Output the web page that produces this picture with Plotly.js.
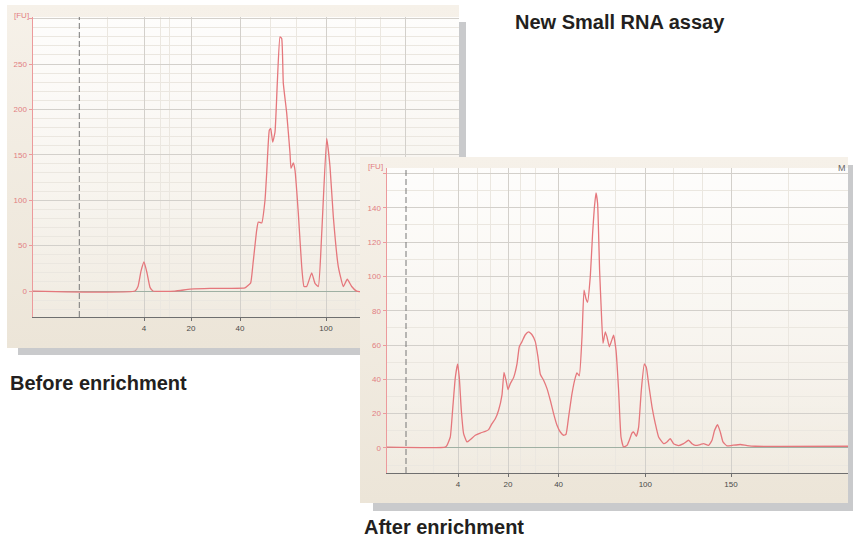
<!DOCTYPE html>
<html><head><meta charset="utf-8">
<script src="https://cdn.plot.ly/plotly-3.0.1.min.js"></script>
<style>
html,body{margin:0;padding:0;background:#fff;width:853px;height:544px;overflow:hidden;}
#base{position:absolute;left:0;top:0;width:853px;height:544px;}
.panel{position:absolute;}
#p1{left:7px;top:5px;width:452px;height:343px;
 background:linear-gradient(rgba(255,255,255,0.85),rgba(255,255,255,0.2)) 26px 12px/426px 300px no-repeat,linear-gradient(#f6f1e9,#ece5d8);}
#p2{left:360px;top:157px;width:488px;height:346px;
 background:linear-gradient(rgba(255,255,255,0.85),rgba(255,255,255,0.2)) 27px 11px/461px 305px no-repeat,linear-gradient(#f6f1e9,#ece5d8);}
</style></head><body>
<div id="base"></div><div id="p1" class="panel"></div><div id="p2" class="panel"></div>
<script>
// ---- Data: "Before enrichment" electropherogram (migration position, fluorescence units)
const beforeTime = [0,102,105,108,111,114,117,120,142,157,177,197,212,215,217.7,220,223.7,225.3,228.7,232,233.7,236.3,237.7,239.7,242,244.3,247,248.7,250.3,253.7,257,258,260.3,262,265.3,268.7,271,273.7,278.7,282,285.3,288.7,293.7,297,300.3,305.3,310.3,314.3,318.7,323.7,426];
const beforeFU   = [0,0,5,22,32,20,4,0,0,2,3,3,3.5,6,9,30,67,76,75,100,130,177,179,164,175,229,280,278,229,196,152,135,141,133,86,27,5,5,20,8.5,5,63,168,137,82,27,5,13,5,0,0];

// ---- Data: "After enrichment" electropherogram
const afterTime = [0,58.3,60,63.3,65.6,68.3,70.6,72.3,74.3,76.6,80,83.3,88.3,93.3,98.3,101.6,105,108.3,111.6,115,117,119,121,123.3,126.6,130,132.3,135,138.3,141.6,145,148.3,151,153.3,156.6,160,163.3,166.6,170,173.3,176.6,179,181.6,185,188.3,190,192.3,195,197,199,200.6,203.3,205.6,207.3,209,210.6,212.6,214.3,216,218.3,220,222.3,224.3,226.6,229,231.6,234,236.6,240,242.3,245,246.6,249.3,251.6,254.3,257.3,259.3,261.6,265,268.3,271.6,276.6,280,283.3,286.6,291.6,296.6,301.6,305,308.3,313.3,316.6,321.6,325,327.6,330.6,333.3,336,340,345,353.3,360,368.3,461];
const afterFU   = [0.5,0.5,1.5,6.4,22,41,49,41,22,8.4,3.5,4.9,7.4,8.7,9.7,10.7,14.2,17,22,31,44,39.5,34,37.5,41,49,59,62,66,67.7,66,62,53,43,39.5,34.6,27.8,20,13.2,9.3,7.4,8,18,31.7,41,43.7,42,64.7,92,87,85,100,125,139.6,148.7,142.5,103.6,80,61,67.7,64.7,59,62,65.7,57,33.6,6.4,0.6,1.5,4.5,8.7,9.3,6.8,12,33.6,49,47,37.5,24,14.2,6.4,2.5,3.5,5.4,2.5,1.4,2.5,4.5,2.5,1.5,2,2.5,1.5,4.5,10.3,13.6,9.3,3.5,1.2,1.5,2,1.4,1,1];

// ---- Axis labels (ladder sizes, nt) and their positions on the migration axis
const beforeTickPos  = [111,158,207,293,372];
const afterTickPos   = [71,121,171.6,258.3,344];
const sizeLabels     = ['4','20','40','100','150'];
const beforeMinorPos = [74.3,127,136.3,237.7,263.7,322,347.7];
const afterMinorPos  = [46.3,90,103.3,133.3,148.3,228.3,286.3,315,401.3];
const beforeYTicks   = [0,50,100,150,200,250,300];
const beforeYText    = ['0','50','100','150','200','250',''];
const afterYTicks    = [0,20,40,60,80,100,120,140,160];
const afterYText     = ['0','20','40','60','80','100','120','140',''];
const beforeMarker = 46.3, afterMarker = 19;

const TRACE = '#e5777c', PINK = '#e27e82', GRID = '#d3d0cb', MINOR = '#ebe7e0';
const tickFont = {family:'Liberation Sans, Arial, sans-serif', size:8};

function panel(div, xs, ys, xr, yr, tickPos, minorPos, yTicks, yText, marker, margin, extraAnn){
  const layout = {
    width: margin.w, height: margin.h,
    margin: {l: margin.l, r: 0, t: margin.t, b: margin.b},
    paper_bgcolor: 'rgba(0,0,0,0)', plot_bgcolor: 'rgba(0,0,0,0)',
    showlegend: false,
    xaxis: {range: xr, tickmode: 'array', tickvals: tickPos, ticktext: sizeLabels,
      showgrid: true, gridcolor: GRID, gridwidth: 1, zeroline: false,
      showline: true, linecolor: '#6f6f6f', linewidth: 1,
      ticks: 'outside', ticklen: 3, tickcolor: '#6f6f6f',
      tickfont: Object.assign({color: '#4a4a4a'}, tickFont),
      minor: {tickvals: minorPos, showgrid: true, gridcolor: MINOR, ticks: ''}},
    yaxis: {range: yr, tickmode: 'array', tickvals: yTicks, ticktext: yText,
      showgrid: true, gridcolor: GRID, gridwidth: 1,
      zeroline: true, zerolinecolor: '#9fb0a3', zerolinewidth: 1,
      showline: true, linecolor: '#ec9a9c', linewidth: 1.5,
      ticks: 'outside', ticklen: 3, tickcolor: '#ec9a9c',
      tickfont: Object.assign({color: PINK}, tickFont),
      minor: {dtick: 10, showgrid: true, gridcolor: MINOR, ticks: ''}},
    shapes: [{type: 'line', xref: 'x', yref: 'paper', x0: marker, x1: marker, y0: 0, y1: 1,
      line: {color: '#777', width: 1, dash: '6px,3px'}}],
    annotations: [{xref: 'paper', yref: 'paper', x: 0, y: 1, xanchor: 'right', yanchor: 'middle',
      xshift: -2, yshift: 2, text: '[FU]', showarrow: false,
      font: {family: 'Liberation Sans, Arial, sans-serif', size: 8, color: PINK}}].concat(extraAnn)
  };
  const data = [{x: xs, y: ys, type: 'scatter', mode: 'lines',
    line: {color: TRACE, width: 1.3, shape: 'spline', smoothing: 0.4}, hoverinfo: 'skip'}];
  Plotly.newPlot(div, data, layout, {staticPlot: true, displayModeBar: false});
}

// Base layer: shadows and captions
const titleFont = {family: 'Liberation Sans Narrow, Liberation Sans, Arial, sans-serif', size: 20, color: '#231f20'};
Plotly.newPlot('base', [], {
  width: 853, height: 544, margin: {l: 0, r: 0, t: 0, b: 0},
  paper_bgcolor: '#ffffff', plot_bgcolor: '#ffffff',
  xaxis: {range: [0, 853], visible: false, fixedrange: true},
  yaxis: {range: [544, 0], visible: false, fixedrange: true},
  shapes: [
    {type: 'rect', x0: 18, x1: 466, y0: 22, y1: 355, fillcolor: '#c9cacc', line: {width: 0}},
    {type: 'rect', x0: 373, x1: 860, y0: 165, y1: 511, fillcolor: '#c9cacc', line: {width: 0}}
  ],
  annotations: [
    {x: 513, y: 22, xanchor: 'left', yanchor: 'middle', text: '<b>New Small RNA assay</b>', showarrow: false, font: titleFont},
    {x: 8, y: 383, xanchor: 'left', yanchor: 'middle', text: '<b>Before enrichment</b>', showarrow: false, font: titleFont},
    {x: 362, y: 527, xanchor: 'left', yanchor: 'middle', text: '<b>After enrichment</b>', showarrow: false, font: titleFont}
  ]
}, {staticPlot: true, displayModeBar: false});

panel('p1', beforeTime, beforeFU, [0, 426], [-28.6, 301.8], beforeTickPos, beforeMinorPos,
  beforeYTicks, beforeYText, beforeMarker, {w: 452, h: 343, l: 26, t: 12, b: 31}, []);
panel('p2', afterTime, afterFU, [0, 461], [-14.6, 163.2], afterTickPos, afterMinorPos,
  afterYTicks, afterYText, afterMarker, {w: 488, h: 346, l: 27, t: 11, b: 30},
  [{xref: 'paper', yref: 'paper', x: 1, y: 1, xanchor: 'right', yanchor: 'middle', yshift: 0,
    text: 'M', showarrow: false, font: {family: 'Liberation Sans, Arial, sans-serif', size: 9, color: '#666'}}]);
</script>
</body></html>
